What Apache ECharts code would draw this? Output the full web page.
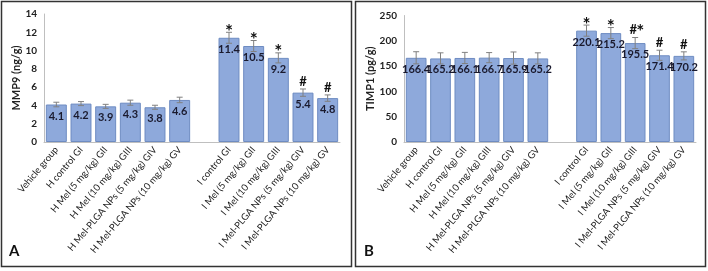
<!DOCTYPE html>
<html><head><meta charset="utf-8">
<script src="https://cdn.jsdelivr.net/npm/echarts@6/dist/echarts.min.js"></script>
<style>html,body{margin:0;padding:0;background:#fff}#c{width:708px;height:271px}</style>
</head><body><div id="c"></div>
<script>
var categories = ['Vehicle group','H control GI','H Mel (5 mg/kg) GII','H Mel (10 mg/kg) GIII','H Mel-PLGA NPs (5 mg/kg) GIV','H Mel-PLGA NPs (10 mg/kg) GV','',
  'I control GI','I Mel (5 mg/kg) GII','I Mel (10 mg/kg) GIII','I Mel-PLGA NPs (5 mg/kg) GIV','I Mel-PLGA NPs (10 mg/kg) GV'];
var mmp9 = [4.1,4.2,3.9,4.3,3.8,4.6,null,11.4,10.5,9.2,5.4,4.8];
var mmp9Err = [0.25,0.22,0.22,0.28,0.22,0.3,null,0.6,0.6,0.55,0.4,0.35];
var mmp9Mark = ['','','','','','','','*','*','*','#','#'];
var timp1 = [166.4,165.2,166.1,166.7,165.9,165.2,null,220.1,215.2,195.5,171.4,170.2];
var timp1Err = [12,11,11,10,12,11,null,11,11,11,10,8];
var timp1Mark = ['','','','','','','','*','*','#*','#','#'];
var mmp9Ticks = {min:0,max:14,interval:2};
var timp1Ticks = {min:0,max:250,interval:50};

var FONT = 'Lato';
var barColor = '#8EA9DB', barBorder = '#6E8CC2', errColor = '#808080';

function errData(vals, errs){
  var out=[];
  for(var i=0;i<vals.length;i++){ if(vals[i]!=null) out.push([i, vals[i], errs[i]]); }
  return out;
}
function errRender(params, api){
  var x = api.value(0), v = api.value(1), e = api.value(2);
  var top = api.coord([x, v+e]), bot = api.coord([x, v-e]);
  var w = 3;
  return {type:'group', children:[
    {type:'line', shape:{x1:top[0],y1:top[1],x2:bot[0],y2:bot[1]}, style:{stroke:errColor,lineWidth:1}},
    {type:'line', shape:{x1:top[0]-w,y1:top[1],x2:top[0]+w,y2:top[1]}, style:{stroke:errColor,lineWidth:1}},
    {type:'line', shape:{x1:bot[0]-w,y1:bot[1],x2:bot[0]+w,y2:bot[1]}, style:{stroke:errColor,lineWidth:1}}
  ]};
}
function markRender(marksArr){
  return function(params, api){
    var x = api.value(0), v = api.value(1), e = api.value(2);
    var top = api.coord([x, v+e]);
    var txt = marksArr[x];
    if(!txt) return null;
    var children = [];
    if(txt === '*'){
      children.push({type:'text', style:{text:'*', x:top[0], y:top[1]+9, align:'center', verticalAlign:'bottom', font:'bold 19px '+FONT, fill:'#111'}});
    } else if(txt === '#'){
      children.push({type:'text', style:{text:'#', x:top[0], y:top[1]-1, align:'center', verticalAlign:'bottom', font:'bold 13px '+FONT, fill:'#111'}});
    } else {
      children.push({type:'text', style:{text:'#', x:top[0]-2, y:top[1]-1, align:'center', verticalAlign:'bottom', font:'bold 13px '+FONT, fill:'#111'}});
      children.push({type:'text', style:{text:'*', x:top[0]+5, y:top[1]+4, align:'center', verticalAlign:'bottom', font:'bold 19px '+FONT, fill:'#111'}});
    }
    return {type:'group', children:children};
  };
}
function barLabel(){
  return {show:true, position:'insideTop', distance:6, color:'#1a1a2e', fontFamily:FONT, fontWeight:'bold', fontSize:11};
}
var axisLabelX = {interval:0, rotate:50, fontSize:9.5, fontFamily:FONT, color:'#1a1a1a', margin:6};
var axisLabelY = {fontSize:10, fontFamily:FONT, fontWeight:'bold', color:'#222', margin:7};

var chart = echarts.init(document.getElementById('c'), null, {renderer:'canvas'});
chart.setOption({
  animation:false,
  backgroundColor:'#fff',
  graphic:[
    {type:'rect', shape:{x:1.5,y:1.5,width:350,height:265}, style:{fill:'none',stroke:'#333',lineWidth:1.5}},
    {type:'rect', shape:{x:355.5,y:1.5,width:350,height:265}, style:{fill:'none',stroke:'#333',lineWidth:1.5}},
    {type:'text', left:9, top:244, style:{text:'A', font:'bold 15px '+FONT, fill:'#111'}},
    {type:'text', left:364, top:244, style:{text:'B', font:'bold 15px '+FONT, fill:'#111'}}
  ],
  grid:[
    {left:44, top:14, width:296, height:128},
    {left:404, top:15.5, width:292, height:126.5}
  ],
  xAxis:[
    {type:'category', gridIndex:0, data:categories, axisTick:{show:false}, axisLine:{lineStyle:{color:'#BFBFBF'}}, axisLabel:axisLabelX},
    {type:'category', gridIndex:1, data:categories, axisTick:{show:false}, axisLine:{lineStyle:{color:'#BFBFBF'}}, axisLabel:axisLabelX}
  ],
  yAxis:[
    {type:'value', gridIndex:0, min:mmp9Ticks.min, max:mmp9Ticks.max, interval:mmp9Ticks.interval, splitLine:{show:false},
     axisLine:{show:true,lineStyle:{color:'#BFBFBF'}}, axisTick:{show:false}, axisLabel:axisLabelY,
     name:'MMP9 (ng/g)', nameLocation:'middle', nameGap:22, nameTextStyle:{fontFamily:FONT,fontWeight:'bold',fontSize:11,color:'#222'}},
    {type:'value', gridIndex:1, min:timp1Ticks.min, max:timp1Ticks.max, interval:timp1Ticks.interval, splitLine:{show:false},
     axisLine:{show:true,lineStyle:{color:'#BFBFBF'}}, axisTick:{show:false}, axisLabel:axisLabelY,
     name:'TIMP1 (pg/g)', nameLocation:'middle', nameGap:28, nameTextStyle:{fontFamily:FONT,fontWeight:'bold',fontSize:11,color:'#222'}}
  ],
  series:[
    {type:'bar', xAxisIndex:0, yAxisIndex:0, data:mmp9, barCategoryGap:'15%',
     itemStyle:{color:barColor, borderColor:barBorder, borderWidth:1}, label:barLabel()},
    {type:'custom', xAxisIndex:0, yAxisIndex:0, data:errData(mmp9,mmp9Err), renderItem:errRender, z:5},
    {type:'custom', xAxisIndex:0, yAxisIndex:0, data:errData(mmp9,mmp9Err), renderItem:markRender(mmp9Mark), z:6},
    {type:'bar', xAxisIndex:1, yAxisIndex:1, data:timp1, barCategoryGap:'15%',
     itemStyle:{color:barColor, borderColor:barBorder, borderWidth:1}, label:barLabel()},
    {type:'custom', xAxisIndex:1, yAxisIndex:1, data:errData(timp1,timp1Err), renderItem:errRender, z:5},
    {type:'custom', xAxisIndex:1, yAxisIndex:1, data:errData(timp1,timp1Err), renderItem:markRender(timp1Mark), z:6}
  ]
});
</script></body></html>
